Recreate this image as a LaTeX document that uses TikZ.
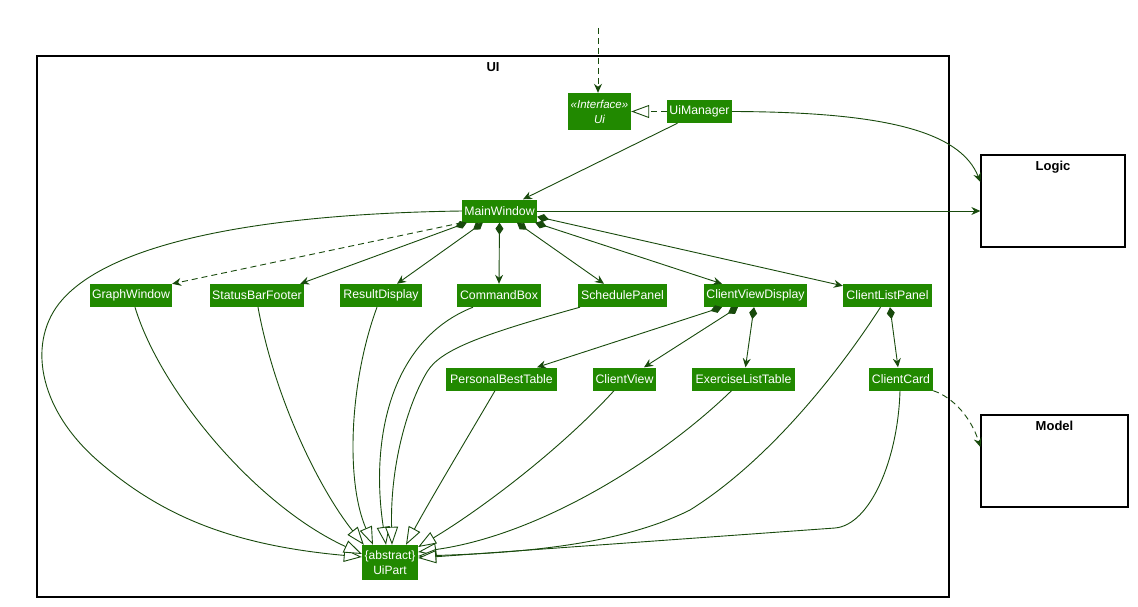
\documentclass[tikz,border=0pt]{standalone}
\usepackage{fontspec}
\setmainfont{Liberation Sans}
\usetikzlibrary{arrows.meta,calc}
\definecolor{boxg}{RGB}{33,137,0}
\definecolor{lg}{RGB}{24,74,12}
\tikzset{
  cls/.style={fill=boxg, text=white, font=\fontsize{12.3}{14}\selectfont, inner xsep=1pt, inner ysep=0pt, minimum height=23pt},
  frm/.style={draw=black, line width=1.3pt, inner sep=0pt},
  ttl/.style={font=\bfseries\fontsize{13}{15}\selectfont, inner sep=0pt},
  ln/.style={draw=lg, color=lg, line width=0.9pt},
  dep/.style={ln, -{Stealth[length=9pt,width=8pt,inset=3pt]}},
  comp/.style={ln, {Diamond[length=12pt,width=8pt]}-{Stealth[length=9pt,width=8pt,inset=3pt]}},
  inh/.style={ln, -{Triangle[length=18pt,width=13pt,fill=white]}},
  dsh/.style={dash pattern=on 6pt off 4pt},
}
\begin{document}
\begin{tikzpicture}[x=1pt,y=-1pt]
\useasboundingbox (0,0) rectangle (1138,607);
% frames
\node (uif) [frm, minimum width=912, minimum height=541] at (493,326.5) {};
\node [ttl, below=7pt] at (uif.north) {UI};
\node (logic) [frm, minimum width=144, minimum height=92] at (1053,201) {};
\node [ttl, below=7pt] at (logic.north) {Logic};
\node (model) [frm, minimum width=147, minimum height=92] at (1054.5,461) {};
\node [ttl, below=6.5pt] at (model.north) {Model};
% classes
\node (ui) [cls, minimum width=63, minimum height=37, align=center, font=\itshape\fontsize{11.5}{15}\selectfont] at (599.5,111.5) {«Interface»\\Ui};
\node (uimgr) [cls, minimum width=65] at (699.5,111.5) {UiManager};
\node (mw) [cls, minimum width=75] at (499.5,211) {MainWindow};
\node (gw) [cls, minimum width=82] at (131,295.5) {GraphWindow};
\node (sbf) [cls, minimum width=94] at (257,295.5) {StatusBarFooter};
\node (rd) [cls, minimum width=82] at (381,295.5) {ResultDisplay};
\node (cb) [cls, minimum width=84] at (499,295.5) {CommandBox};
\node (sp) [cls, minimum width=89] at (622.5,295.5) {SchedulePanel};
\node (cvd) [cls, minimum width=103] at (755.5,295.5) {ClientViewDisplay};
\node (clp) [cls, minimum width=89] at (887.5,295.5) {ClientListPanel};
\node (pbt) [cls, minimum width=111] at (501.5,379) {PersonalBestTable};
\node (cv) [cls, minimum width=63] at (624.5,379) {ClientView};
\node (elt) [cls, minimum width=103] at (743.5,379) {ExerciseListTable};
\node (cc) [cls, minimum width=64] at (901,379) {ClientCard};
\node (up) [cls, minimum width=56, minimum height=35, align=center, font=\fontsize{12}{15}\selectfont] at (390,562.5) {\{abstract\}\\UiPart};
% connectors
\coordinate (entry) at (598,28);
\draw[dep,dsh] (entry) -- ($(ui.north)+(-1.5,0)$);
\draw[ln,dsh,-{Triangle[length=18pt,width=13pt,fill=white]}] (uimgr.west) -- (ui.east);
\draw[dep] (uimgr.east) .. controls (880,112) and (960,130) .. ($(logic.west)+(0,-19)$);
\draw[dep] ($(uimgr.south)+(-22,0)$) -- ($(mw.north)+(23.5,0)$);
\draw[dep] (mw.east) -- (mw.east -| logic.west);
\draw[dep,dsh] (mw.south west) -- (gw.north east);
\draw[comp] ($(mw.south west)+(5,0)$) -- ($(sbf.north east)+(-4,0)$);
\draw[comp] ($(mw.south west)+(21,0)$) -- ($(rd.north)+(16,0)$);
\draw[comp] (mw.south) -- (cb.north);
\draw[comp] ($(mw.south)+(17.5,0)$) -- ($(sp.north)+(-18.5,0)$);
\draw[comp] ($(mw.south east)+(-2,0)$) -- ($(cvd.north)+(-33.5,0)$);
\draw[comp] ($(mw.south east)+(0,-6)$) -- ($(clp.north west)+(0,2)$);
\draw[comp] ($(cvd.south)+(-33.5,0)$) -- ($(pbt.north)+(35.5,0)$);
\draw[comp] ($(cvd.south)+(-17.5,0)$) -- ($(cv.north)+(19.5,0)$);
\draw[comp] ($(cvd.south)+(-1.5,0)$) -- ($(elt.north)+(2,0)$);
\draw[comp] ($(clp.south)+(2.5,0)$) -- ($(cc.north)+(-3,0)$);
\draw[dep,dsh] (cc.south east) .. controls (955,398) and (972,420) .. ($(model.west)+(0,-14)$);
% inheritance
\draw[inh] (mw.west) .. controls (250,214) and (110,245) .. (62,300)
   .. controls (27,340) and (37,407) .. (97,460)
   .. controls (160,515) and (230,545) .. ($(up.west)+(0,-5.5)$);
\draw[inh] ($(gw.south)+(4,0)$) .. controls (160,390) and (255,505) .. ($(up.west)+(0,-8.5)$);
\draw[inh] ($(sbf.south)+(1,0)$) .. controls (275,400) and (320,490) .. ($(up.north west)+(2,0)$);
\draw[inh] ($(rd.south)+(-4,0)$) .. controls (350,380) and (345,480) .. ($(up.north)+(-17,0)$);
\draw[inh] ($(cb.south)+(-26,0)$) .. controls (390,340) and (370,440) .. ($(up.north)+(-4,0)$);
\draw[inh] ($(sp.south)+(-42.5,0)$) .. controls (480,335) and (440,350) .. (427,372)
   .. controls (410,400) and (390,460) .. ($(up.north)+(2,0)$);
\draw[inh] ($(pbt.south)+(-6.5,0)$) .. controls (475,425) and (430,500) .. ($(up.north)+(16,0)$);
\draw[inh] ($(cv.south)+(-10.5,0)$) .. controls (560,450) and (480,510) .. ($(up.east)+(0,-15.5)$);
\draw[inh] ($(elt.south)+(-12,0)$) .. controls (660,460) and (540,535) .. ($(up.east)+(0,-10.5)$);
\draw[inh] ($(clp.south)+(-7,0)$) .. controls (840,370) and (770,460) .. (690,510)
   .. controls (620,545) and (520,553) .. ($(up.east)+(0,-6.5)$);
\draw[inh] ($(cc.south)+(-1,0)$) .. controls (898,460) and (870,525) .. (835,528)
   -- ($(up.east)+(0,-4.5)$);
\end{tikzpicture}
\end{document}
